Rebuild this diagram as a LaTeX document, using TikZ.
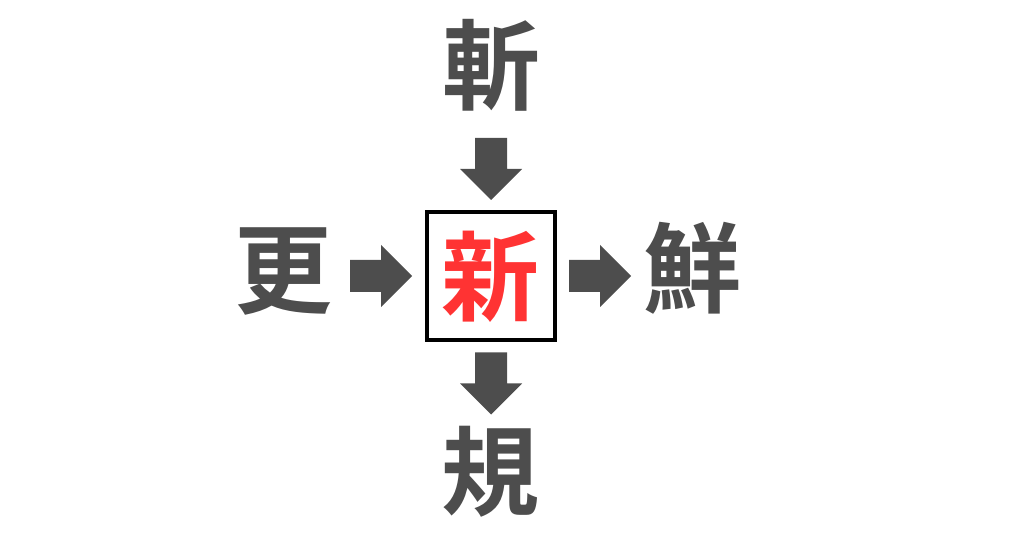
\documentclass[tikz,border=0pt]{standalone}
\usepackage{fontspec}
\usepackage{xcolor}
\newfontfamily\jpfont{Noto Sans CJK JP Bold}
\definecolor{kanjigray}{HTML}{4D4D4D}
\definecolor{kanjired}{HTML}{FF3333}

\begin{document}
\begin{tikzpicture}[x=1pt,y=1pt,
    every node/.style={inner sep=0pt},
    kanji/.style={font=\jpfont\fontsize{98pt}{98pt}\selectfont, text=kanjigray},
    blockarrow/.style={fill=kanjigray}]
    \useasboundingbox (0,0) rectangle (1024,538);
    % centre box
    \node[draw, line width=4pt, minimum size=128pt] (box) at (491,261.5) {};
    \node[kanji, text=kanjired] (c) at (490,261) {新};
    \node[kanji] (t) at (491,473) {斬};
    \node[kanji] (l) at (283,266) {更};
    \node[kanji] (r) at (692,270) {鮮};
    \node[kanji] (b) at (490,66) {規};
    % block arrows
    \foreach \x/\y/\a in
    {491/369/-90, 381/262/0, 600/262/0, 491/154.5/-90}
    \fill[blockarrow, shift={(\x,\y)}, rotate=\a]
      (-31,-16) -- (0,-16) -- (0,-31) -- (31,0) -- (0,31) -- (0,16) -- (-31,16) -- cycle;
\end{tikzpicture}
\end{document}
